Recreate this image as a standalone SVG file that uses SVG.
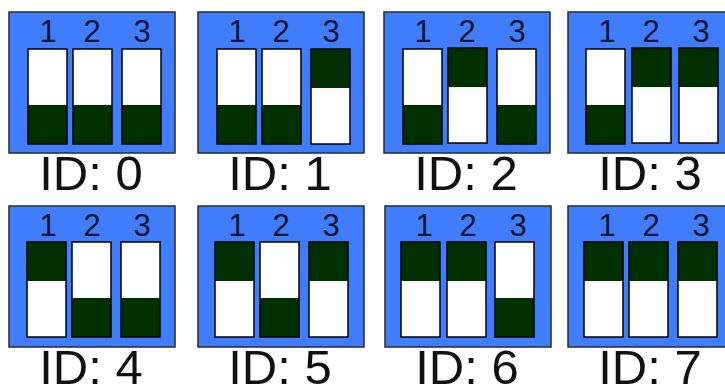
<svg xmlns="http://www.w3.org/2000/svg" width="725" height="385" viewBox="0 0 725 385">
  <style>
    .panel { fill: #3f7dfd; stroke: #2a2a2a; stroke-width: 1.5; }
    .slot { fill: #ffffff; }
    .lever { fill: #003000; }
    .edge { fill: none; stroke: #000000; stroke-width: 1.5; }
    .num { font-family: "Liberation Sans", Arial, sans-serif; font-size: 31px; fill: #141432; text-anchor: middle; }
    .lbl { font-family: "Liberation Sans", Arial, sans-serif; font-size: 49px; fill: #111111; text-anchor: middle; }
  </style>
  <defs>
    <!-- switch slot in OFF position: lever at the bottom -->
    <g id="sw-off">
      <rect class="slot" x="0" y="0" width="39" height="95"/>
      <rect class="lever" x="0" y="56" width="39" height="39"/>
      <rect class="edge" x="0" y="0" width="39" height="95"/>
    </g>
    <!-- switch slot in ON position: lever at the top -->
    <g id="sw-on">
      <rect class="slot" x="0" y="0" width="39" height="95"/>
      <rect class="lever" x="0" y="0" width="39" height="39"/>
      <rect class="edge" x="0" y="0" width="39" height="95"/>
    </g>
    <!-- blue DIP housing with position numbers -->
    <g id="housing">
      <rect class="panel" x="0" y="0" width="166" height="141"/>
      <text class="num" x="39" y="30">1</text>
      <text class="num" x="83" y="30">2</text>
      <text class="num" x="133" y="30">3</text>
    </g>
  </defs>

  <rect x="0" y="0" width="725" height="385" fill="#ffffff"/>

  <!-- row 1 -->
  <g id="id0" transform="translate(9,12)">
    <use href="#housing"/>
    <use href="#sw-off" x="19" y="37"/>
    <use href="#sw-off" x="64" y="37"/>
    <use href="#sw-off" x="113" y="37"/>
    <text class="lbl" x="82" y="178">ID: 0</text>
  </g>
  <g id="id1" transform="translate(198,12)">
    <use href="#housing"/>
    <use href="#sw-off" x="19" y="37"/>
    <use href="#sw-off" x="64" y="37"/>
    <use href="#sw-on" x="113" y="37"/>
    <text class="lbl" x="82" y="178">ID: 1</text>
  </g>
  <g id="id2" transform="translate(384,12)">
    <use href="#housing"/>
    <use href="#sw-off" x="19" y="37"/>
    <use href="#sw-on" x="64" y="36"/>
    <use href="#sw-off" x="113" y="37"/>
    <text class="lbl" x="82" y="178">ID: 2</text>
  </g>
  <g id="id3" transform="translate(568,12)">
    <use href="#housing"/>
    <use href="#sw-off" x="18" y="37"/>
    <use href="#sw-on" x="64" y="36"/>
    <use href="#sw-on" x="111" y="36"/>
    <text class="lbl" x="82" y="178">ID: 3</text>
  </g>

  <!-- row 2 -->
  <g id="id4" transform="translate(9,206)">
    <use href="#housing"/>
    <use href="#sw-on" x="18" y="36"/>
    <use href="#sw-off" x="63" y="36"/>
    <use href="#sw-off" x="112" y="36"/>
    <text class="lbl" x="82" y="178">ID: 4</text>
  </g>
  <g id="id5" transform="translate(198,206)">
    <use href="#housing"/>
    <use href="#sw-on" x="17" y="36"/>
    <use href="#sw-off" x="62" y="36"/>
    <use href="#sw-on" x="111" y="36"/>
    <text class="lbl" x="82" y="178">ID: 5</text>
  </g>
  <g id="id6" transform="translate(385,206)">
    <use href="#housing"/>
    <use href="#sw-on" x="16" y="36"/>
    <use href="#sw-on" x="62" y="36"/>
    <use href="#sw-off" x="110" y="36"/>
    <text class="lbl" x="82" y="178">ID: 6</text>
  </g>
  <g id="id7" transform="translate(568,206)">
    <use href="#housing"/>
    <use href="#sw-on" x="16" y="36"/>
    <use href="#sw-on" x="61" y="36"/>
    <use href="#sw-on" x="110" y="36"/>
    <text class="lbl" x="82" y="178">ID: 7</text>
  </g>

  <!-- no connectors in this figure -->
  <g id="connectors"/>
</svg>
